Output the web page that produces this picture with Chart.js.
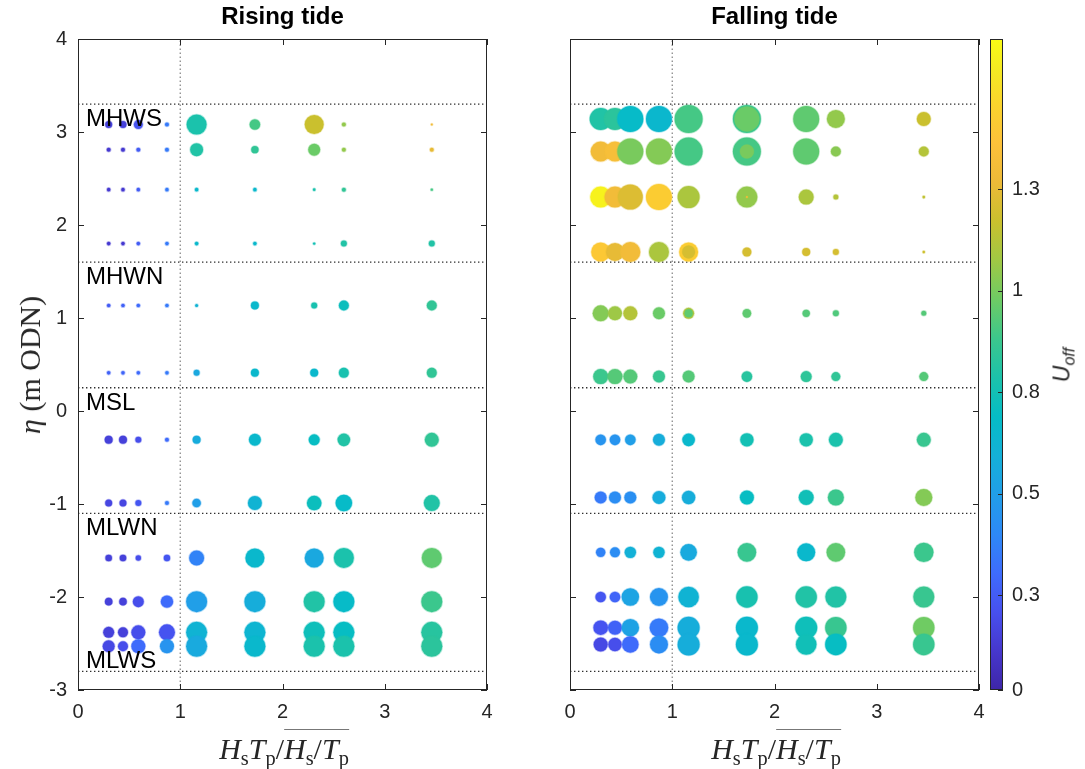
<!DOCTYPE html>
<html>
<head>
<meta charset="utf-8">
<script src="https://cdn.jsdelivr.net/npm/chart.js@4.4.1/dist/chart.umd.min.js"></script>
<style>
  body { margin: 0; background: #fff; }
  #wrap { position: relative; width: 1085px; height: 769px; color: #262626; }
  canvas { position: absolute; left: 0; top: 0; }
  .math { position: absolute; font-family: "Liberation Serif", "DejaVu Serif", serif; font-size: 30px; white-space: nowrap; transform: translate(-50%, -50%); line-height: 1; }
  .math sub { font-size: 0.68em; vertical-align: -0.28em; line-height: 0; }
  .ov { border-top: 1.5px solid #777; padding-top: 2px; }
  #ylab { left: 30px; top: 365px; transform: translate(-50%, -50%) rotate(-90deg); }
  #cblab { position: absolute; left: 1062px; top: 365px; transform: translate(-50%, -50%) rotate(-90deg); font-family: "Liberation Sans", Arial, sans-serif; font-size: 23px; white-space: nowrap; }
  #cblab sub { font-size: 0.7em; vertical-align: -0.3em; line-height: 0; }
</style>
</head>
<body>
<div id="wrap">
  <canvas id="rising" width="1085" height="769"></canvas>
  <canvas id="falling" width="1085" height="769"></canvas>
  <canvas id="cbar" width="1085" height="769"></canvas>
  <div class="math" id="ylab"><i>η</i> (m ODN)</div>
  <div class="math" style="left:284px; top:749px;"><i>H</i><sub>s</sub><i>T</i><sub>p</sub>/<span class="ov"><i>H</i><sub>s</sub>/<i>T</i><sub>p</sub></span></div>
  <div class="math" style="left:776px; top:749px;"><i>H</i><sub>s</sub><i>T</i><sub>p</sub>/<span class="ov"><i>H</i><sub>s</sub>/<i>T</i><sub>p</sub></span></div>
  <div id="cblab"><i>U</i><sub><i>off</i></sub></div>
</div>
<script>
// normalised wave parameter, same columns in both panels
const hsTp = [0.3, 0.44, 0.59, 0.87, 1.16, 1.73, 2.31, 2.6, 3.46];

// rising tide
const etaRising = [3.08, 2.81, 2.38, 1.80, 1.135, 0.41, -0.31, -0.99, -1.58, -2.05, -2.38, -2.53];
const sizeRising = [
  [3.5, 3.5, 4.5, 2, 10, 5.3, 9.5, 2, 1],
  [2, 2, 2, 2, 6.5, 3.7, 6, 2, 2],
  [1.8, 1.8, 1.8, 1.8, 1.8, 1.8, 1.3, 2, 1.2],
  [1.8, 1.8, 1.8, 1.8, 1.8, 1.8, 1.2, 3, 3],
  [1.8, 1.8, 1.8, 1.8, 1.5, 4, 3, 5, 5],
  [1.8, 1.8, 1.8, 1.8, 3, 4, 4, 5, 5],
  [4, 4, 3, 2, 4, 6, 5.5, 6.3, 7],
  [3.5, 3.5, 3, 2, 4.3, 7, 7.3, 8.3, 8],
  [3.3, 3.3, 2.7, 3.2, 7.5, 9.5, 9.5, 10, 10],
  [3.8, 3.8, 5.5, 6.2, 10.5, 10.5, 10.5, 10.5, 10.5],
  [5.5, 5, 7, 8, 10.5, 10.5, 10.5, 10.5, 10.5],
  [6, 5, 7, 7, 10.5, 10.5, 10.5, 10.5, 10.5]
];
const uoffRising = [
  [0.15, 0.15, 0.22, 0.35, 0.78, 0.9, 1.17, 1.05, 1.3],
  [0.12, 0.12, 0.25, 0.35, 0.8, 0.85, 0.97, 1.05, 1.25],
  [0.12, 0.12, 0.25, 0.35, 0.66, 0.66, 0.78, 0.85, 0.9],
  [0.12, 0.12, 0.25, 0.35, 0.66, 0.66, 0.75, 0.8, 0.8],
  [0.25, 0.27, 0.3, 0.35, 0.62, 0.66, 0.77, 0.72, 0.85],
  [0.27, 0.28, 0.3, 0.35, 0.55, 0.66, 0.66, 0.77, 0.85],
  [0.15, 0.15, 0.2, 0.3, 0.57, 0.66, 0.7, 0.8, 0.85],
  [0.17, 0.17, 0.23, 0.35, 0.5, 0.62, 0.72, 0.68, 0.8],
  [0.15, 0.15, 0.2, 0.23, 0.38, 0.66, 0.55, 0.78, 0.95],
  [0.15, 0.15, 0.2, 0.3, 0.5, 0.58, 0.8, 0.68, 0.88],
  [0.15, 0.15, 0.2, 0.22, 0.62, 0.63, 0.73, 0.7, 0.82],
  [0.18, 0.2, 0.3, 0.45, 0.56, 0.66, 0.78, 0.78, 0.83]
];

// falling tide
const etaFalling = [3.14, 2.79, 2.30, 1.71, 1.05, 0.37, -0.31, -0.93, -1.52, -2.0, -2.33, -2.51];
const sizeFalling = [
  [11, 11, 13, 13, 14, 14, 13, 9, 7],
  [10, 10, 13, 13, 14, 14, 13, 5, 5],
  [10.5, 10.5, 12.5, 13, 11, 10.5, 7.5, 2.5, 1.3],
  [9.5, 9, 10, 10, 9.5, 4.5, 4, 3, 1.2],
  [8, 7, 7, 6, 5.5, 4.3, 3.7, 3, 2.5],
  [7.5, 7.5, 7, 6, 6, 5.3, 5.5, 4.5, 4.5],
  [5.3, 5.3, 5.3, 6, 6.3, 6.7, 6.7, 7, 7],
  [6, 6, 6, 6.5, 6.7, 7, 7.5, 8, 8.5],
  [4.7, 5, 5.7, 5.7, 8.3, 9.3, 9, 9.3, 9.7],
  [5.3, 5.3, 8.7, 9, 10.3, 10.7, 10.7, 10.5, 10.5],
  [7.3, 7, 8.7, 9.3, 11, 11, 11, 10.7, 10.7],
  [7, 6.7, 8.3, 9, 11, 11, 10.3, 10.7, 10.7]
];
const uoffFalling = [
  [0.8, 0.83, 0.68, 0.65, 0.9, 0.88, 0.95, 1.05, 1.17],
  [1.3, 1.33, 1.0, 1.02, 0.9, 0.9, 0.95, 1.03, 1.12],
  [1.58, 1.3, 1.22, 1.42, 1.1, 1.05, 1.1, 1.12, 1.15],
  [1.4, 1.25, 1.3, 1.1, 1.42, 1.2, 1.2, 1.2, 1.18],
  [1.02, 1.07, 1.12, 0.97, 1.1, 0.95, 0.93, 0.92, 0.93],
  [0.88, 0.93, 0.93, 0.87, 0.93, 0.82, 0.84, 0.85, 0.93],
  [0.45, 0.45, 0.5, 0.58, 0.66, 0.75, 0.78, 0.78, 0.87],
  [0.35, 0.42, 0.43, 0.57, 0.58, 0.7, 0.74, 0.88, 1.02],
  [0.38, 0.42, 0.6, 0.62, 0.56, 0.87, 0.66, 0.95, 0.88],
  [0.23, 0.28, 0.53, 0.45, 0.62, 0.77, 0.8, 0.8, 0.87],
  [0.22, 0.27, 0.52, 0.35, 0.58, 0.66, 0.73, 0.87, 0.98],
  [0.18, 0.2, 0.3, 0.42, 0.58, 0.66, 0.74, 0.7, 0.87]
];
// repeated runs plotted on top of an existing marker (falling tide)
const extraX = [1.73, 1.73, 1.73, 1.16, 1.16];
const extraEta = [3.14, 2.79, 2.30, 1.71, 1.05];
const extraSize = [12.5, 7, 1, 6.5, 4];
const extraUoff = [0.97, 1.0, 1.3, 1.2, 0.95];

// tidal levels
const tideNames = ["MHWS", "MHWN", "MSL", "MLWN", "MLWS"];
const tideEta = [3.3, 1.6, 0.25, -1.1, -2.8];

// colour bar
const uoffMin = 0.016;
const uoffMax = 1.62;
const cbTicks = [0.016, 0.25, 0.5, 0.75, 1, 1.25];
const cbTickLabels = ["0", "0.3", "0.5", "0.8", "1", "1.3"];

// parula-like colormap
const parula = [
  [0.00, 62, 38, 168], [0.06, 70, 55, 205], [0.12, 71, 80, 238], [0.18, 62, 108, 252],
  [0.24, 45, 137, 246], [0.30, 33, 158, 232], [0.36, 20, 176, 216], [0.42, 5, 188, 198],
  [0.48, 28, 194, 170], [0.54, 60, 199, 140], [0.60, 110, 203, 100], [0.66, 160, 200, 68],
  [0.72, 202, 192, 46], [0.78, 237, 186, 56], [0.84, 253, 193, 58], [0.90, 250, 212, 45],
  [0.95, 245, 232, 35], [1.00, 249, 251, 21]
];

function cmap(u, a) {
  const t = Math.min(1, Math.max(0, (u - uoffMin) / (uoffMax - uoffMin)));
  let i = 0;
  while (i < parula.length - 2 && t > parula[i + 1][0]) i++;
  const p = parula[i], q = parula[i + 1];
  const f = (t - p[0]) / (q[0] - p[0]);
  const c = [1, 2, 3].map(k => Math.round(p[k] + (q[k] - p[k]) * f));
  return `rgba(${c[0]},${c[1]},${c[2]},${a})`;
}

function bubbles(eta, size, uoff) {
  const pts = [], cols = [], edges = [];
  eta.forEach((y, i) => {
    hsTp.forEach((x, j) => {
      pts.push({ x: x, y: y, r: size[i][j] });
      cols.push(cmap(uoff[i][j], 1));
      edges.push(cmap(uoff[i][j], 0.35));
    });
  });
  return { type: "bubble", data: pts, backgroundColor: cols, borderColor: edges, borderWidth: 1.5, order: 1 };
}

function extraBubbles() {
  return {
    type: "bubble",
    data: extraX.map((x, i) => ({ x: x, y: extraEta[i], r: extraSize[i] })),
    backgroundColor: extraUoff.map(u => cmap(u, 1)),
    borderColor: extraUoff.map(u => cmap(u, 0.35)),
    borderWidth: 1,
    order: 0
  };
}

function refLines() {
  const ds = tideEta.map(e => ({
    type: "line", data: [{ x: 0, y: e }, { x: 4, y: e }],
    borderColor: "#2e2e2e", borderWidth: 1.3, borderDash: [1.4, 2.6], pointRadius: 0, order: 5
  }));
  ds.push({
    type: "line", data: [{ x: 1, y: -3 }, { x: 1, y: 4 }],
    borderColor: "#8a8a8a", borderWidth: 1.3, borderDash: [1.4, 2.6], pointRadius: 0, order: 5
  });
  return ds;
}

const tickLen = 6;
const frame = {
  id: "frame",
  afterDraw(chart) {
    const { ctx, chartArea: a, scales } = chart;
    const cb = chart.canvas.id === "cbar";
    ctx.save();
    ctx.strokeStyle = "#262626";
    ctx.lineWidth = 1;
    ctx.strokeRect(Math.round(a.left) + 0.5, Math.round(a.top) + 0.5, Math.round(a.width) - 1, Math.round(a.height) - 1);
    ctx.beginPath();
    if (!cb) {
      scales.x.ticks.forEach(t => {
        const p = Math.round(scales.x.getPixelForValue(t.value)) + 0.5;
        ctx.moveTo(p, a.bottom); ctx.lineTo(p, a.bottom - tickLen);
        ctx.moveTo(p, a.top); ctx.lineTo(p, a.top + tickLen);
      });
      scales.y.ticks.forEach(t => {
        const p = Math.round(scales.y.getPixelForValue(t.value)) + 0.5;
        ctx.moveTo(a.left, p); ctx.lineTo(a.left + tickLen, p);
        ctx.moveTo(a.right, p); ctx.lineTo(a.right - tickLen, p);
      });
    } else {
      scales.y.ticks.forEach(t => {
        const p = Math.round(scales.y.getPixelForValue(t.value)) + 0.5;
        ctx.moveTo(a.right, p); ctx.lineTo(a.right - 5, p);
      });
    }
    ctx.stroke();
    ctx.restore();
  }
};

const levelLabels = {
  id: "levelLabels",
  afterDatasetsDraw(chart) {
    const { ctx, scales: { x, y } } = chart;
    ctx.save();
    ctx.font = '24px "Liberation Sans", Arial, sans-serif';
    ctx.fillStyle = "#000";
    ctx.textBaseline = "alphabetic";
    tideNames.forEach((name, i) => {
      const py = y.getPixelForValue(tideEta[i]);
      const last = i === tideNames.length - 1;
      ctx.fillText(name, x.left + 8, last ? py - 3 : py + 22);
    });
    ctx.restore();
  }
};

const tickFont = { family: '"Liberation Sans", Arial, sans-serif', size: 20 };

function panel(id, title, datasets, isLeft) {
  return new Chart(document.getElementById(id), {
    type: "bubble",
    data: { datasets: datasets },
    plugins: isLeft ? [frame, levelLabels] : [frame],
    options: {
      responsive: false,
      animation: false,
      events: [],
      layout: { padding: isLeft ? { left: 0, right: 598, top: 0, bottom: 0 } : { left: 570, right: 106, top: 0, bottom: 0 } },
      plugins: {
        legend: { display: false },
        tooltip: { enabled: false },
        title: {
          display: true, text: title, fullSize: false, color: "#000",
          font: { family: '"Liberation Sans", Arial, sans-serif', size: 24, weight: "bold", lineHeight: 1.2 },
          padding: { top: 2.6, bottom: 7.6 }
        }
      },
      scales: {
        x: {
          type: "linear", min: 0, max: 4,
          ticks: { stepSize: 1, font: tickFont, color: "#262626", padding: 10, maxRotation: 0 },
          grid: { display: false, drawTicks: false },
          border: { display: false },
          afterFit(s) { s.height = 79; s.paddingLeft = 0; s.paddingRight = 0; }
        },
        y: {
          type: "linear", min: -3, max: 4,
          ticks: { stepSize: 1, font: tickFont, color: "#262626", padding: 11, display: isLeft },
          grid: { display: false, drawTicks: false },
          border: { display: false },
          afterFit(s) { s.width = isLeft ? 78 : 0; s.paddingTop = 0; s.paddingBottom = 0; }
        }
      }
    }
  });
}

const risingSets = [bubbles(etaRising, sizeRising, uoffRising)].concat(refLines());
const fallingSets = [bubbles(etaFalling, sizeFalling, uoffFalling), extraBubbles()].concat(refLines());

panel("rising", "Rising tide", risingSets, true);
panel("falling", "Falling tide", fallingSets, false);

new Chart(document.getElementById("cbar"), {
  type: "bar",
  data: {
    labels: ["Uoff"],
    datasets: [{
      data: [[uoffMin, uoffMax]],
      barPercentage: 1,
      categoryPercentage: 1,
      backgroundColor(c) {
        const chart = c.chart;
        if (!chart.chartArea) return "#888";
        const y = chart.scales.y;
        const g = chart.ctx.createLinearGradient(0, y.getPixelForValue(uoffMin), 0, y.getPixelForValue(uoffMax));
        parula.forEach(s => g.addColorStop(s[0], `rgb(${s[1]},${s[2]},${s[3]})`));
        return g;
      }
    }]
  },
  plugins: [frame],
  options: {
    responsive: false,
    animation: false,
    events: [],
    layout: { padding: { left: 990, right: 0, top: 39, bottom: 79 } },
    plugins: { legend: { display: false }, tooltip: { enabled: false } },
    scales: {
      x: { display: false },
      y: {
        position: "right", min: uoffMin, max: uoffMax,
        afterBuildTicks(s) { s.ticks = cbTicks.map(v => ({ value: v })); },
        ticks: { font: tickFont, color: "#262626", padding: 9, callback: (v, i) => cbTickLabels[i] },
        grid: { display: false, drawTicks: false },
        border: { display: false },
        afterFit(s) { s.width = 82; s.paddingTop = 0; s.paddingBottom = 0; }
      }
    }
  }
});
</script>
</body>
</html>
